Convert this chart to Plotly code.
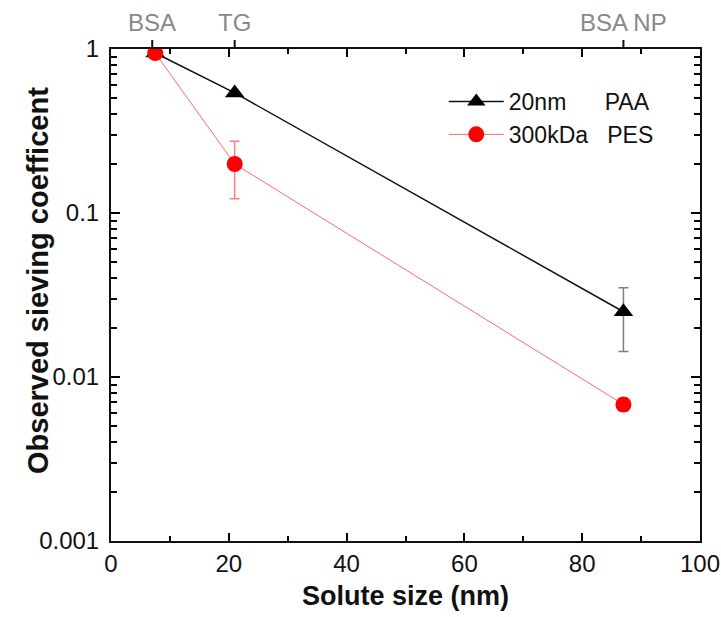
import plotly.graph_objects as go

# Data
solute_size = [7.5, 21, 87]
paa_sieving = [0.945, 0.54, 0.025]
paa_err_plus = [0, 0, 0.010]
paa_err_minus = [0, 0, 0.0107]
pes_sieving = [0.945, 0.199, 0.0068]
pes_err_plus = [0, 0.075, 0.0006]
pes_err_minus = [0, 0.077, 0.0006]
top_tick_vals = [7, 21, 87]
top_tick_text = ["BSA", "TG", "BSA NP"]

FONT = "Liberation Sans, Arial, sans-serif"
NB = "\u00a0"
INK = "#111111"

fig = go.Figure()
fig.add_trace(go.Scatter(
    x=solute_size, y=paa_sieving, mode="lines+markers",
    name="20nm" + NB * 6 + "PAA",
    line=dict(color=INK, width=1.5),
    marker=dict(symbol="triangle-up", size=17, color="black"),
    error_y=dict(type="data", symmetric=False, array=paa_err_plus,
                 arrayminus=paa_err_minus, color="#808080", thickness=1.5, width=5),
))
fig.add_trace(go.Scatter(
    x=solute_size, y=pes_sieving, mode="lines+markers",
    name="300kDa" + NB * 3 + "PES",
    line=dict(color="#ff6a6a", width=1),
    marker=dict(symbol="circle", size=16, color="#ff0000"),
    error_y=dict(type="data", symmetric=False, array=pes_err_plus,
                 arrayminus=pes_err_minus, color="#ff8080", thickness=1.5, width=5),
))

annotations = [dict(text="<b>Observed sieving coefficent</b>", textangle=-90,
                    xref="paper", yref="paper", x=(38 - 111) / 589, y=(541 - 281) / 492,
                    xanchor="center", yanchor="middle", showarrow=False,
                    font=dict(size=29, color=INK))]
for xv, label in zip(top_tick_vals, top_tick_text):
    annotations.append(dict(text=label, x=xv, xref="x", y=1, yref="paper",
                            showarrow=True, arrowhead=0, arrowwidth=2, arrowcolor=INK,
                            ax=0, ay=-27, standoff=0, borderpad=4,
                            font=dict(size=24, color="#888888")))

fig.update_layout(
    width=721, height=617,
    margin=dict(l=111, r=21, t=49, b=76, autoexpand=False),
    paper_bgcolor="white", plot_bgcolor="white",
    font=dict(family=FONT, size=24, color=INK),
    showlegend=True,
    legend=dict(x=0.565, y=0.937, xanchor="left", yanchor="top",
                bgcolor="rgba(0,0,0,0)", font=dict(size=23, color=INK),
                itemwidth=55, tracegroupgap=0),
    xaxis=dict(range=[0, 100], tickmode="linear", tick0=0, dtick=20, ticks="inside",
               ticklen=8, tickwidth=2, tickcolor="black", showline=True, linewidth=2,
               linecolor=INK, mirror="ticks", showgrid=False, zeroline=False,
               minor=dict(dtick=10, ticks="inside", ticklen=5, tickwidth=2,
                          tickcolor="black", showgrid=False),
               title=dict(text="<b>Solute size (nm)</b>", font=dict(size=27), standoff=10),
               tickfont=dict(size=24)),
    yaxis=dict(type="log", range=[-3, 0], tickmode="linear", tick0=0, dtick=1,
               exponentformat="none",
               ticks="inside", ticklen=9, tickwidth=2, tickcolor="black",
               showline=True, linewidth=2, linecolor=INK, mirror="ticks",
               showgrid=False, zeroline=False, ticklabelstandoff=5,
               minor=dict(dtick="D1", ticks="inside", ticklen=6, tickwidth=2,
                          tickcolor="black", showgrid=False),
               tickfont=dict(size=24)),
    annotations=annotations,
)

fig.write_html("out.html", post_script="document.body.style.margin='0';",
               config={"displayModeBar": False})
